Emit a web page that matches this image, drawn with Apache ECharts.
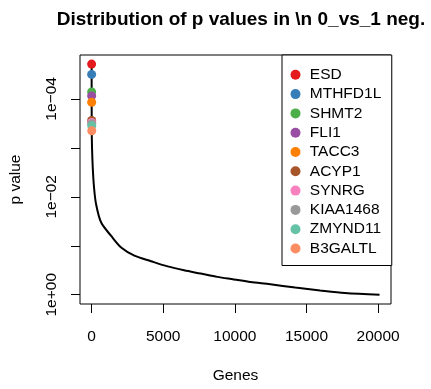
<!DOCTYPE html>
<html>
<head>
<meta charset="utf-8">
<script src="https://cdn.jsdelivr.net/npm/echarts@6/dist/echarts.min.js"></script>
<style>
html,body{margin:0;padding:0;background:#fff;}
#chart{width:431px;height:389px;}
</style>
</head>
<body>
<div id="chart"></div>
<script>
// Top genes (rank on x, -log10(p) on y)
const categories = ['ESD','MTHFD1L','SHMT2','FLI1','TACC3','ACYP1','SYNRG','KIAA1468','ZMYND11','B3GALTL'];
const geneRanks = [1,2,3,4,5,6,7,8,9,10];
const geneNegLog10P = [4.71,4.50,4.14,4.06,3.93,3.56,3.52,3.49,3.45,3.35];
const geneColors = ['#E41A1C','#377EB8','#4DAF4A','#984EA3','#FF7F00','#A65628','#F781BF','#999999','#66C2A5','#FC8D62'];
// Sorted p-value curve (rest of the genes)
const curveRanks = [30,80,167,306,660,1368,2063,2986,4146,5305,6458,7617,8777,9930,11090,12479,14215,15951,17687,20100];
const curveNegLog10P = [3.0,2.6,2.2,1.86,1.48,1.2,0.964,0.798,0.685,0.579,0.499,0.433,0.365,0.313,0.259,0.214,0.146,0.086,0.034,0];
// Axis ticks
const xTicks = [0,5000,10000,15000,20000];
const yTicks = [0,1,2,3,4];
const yLabelTicks = [0,2,4];

const FONT = "'Liberation Sans', Arial, Helvetica, sans-serif";
const FS = 15.5;

const lineData = geneRanks.map((r,i)=>[r, geneNegLog10P[i]])
  .concat(curveRanks.map((r,i)=>[r, curveNegLog10P[i]]));

const series = [{
  type:'line', data: lineData, showSymbol:false, symbol:'none',
  smooth:0.3,
  lineStyle:{color:'#000', width:2}, z:2, silent:true
}];
categories.forEach((name,i)=>{
  series.push({
    type:'scatter', name:name, data:[[geneRanks[i], geneNegLog10P[i]]],
    symbol:'circle', symbolSize:9, itemStyle:{color:geneColors[i], opacity:1}, z:3+i
  });
});

const chart = echarts.init(document.getElementById('chart'), null, {renderer:'canvas'});
chart.setOption({
  animation:false,
  backgroundColor:'#fff',
  textStyle:{fontFamily:FONT},
  title:{
    text:'Distribution of p values in \\n 0_vs_1 neg.',
    left:236, top:5, textAlign:'center',
    textStyle:{fontFamily:FONT, fontWeight:'bold', fontSize:19, color:'#000'}
  },
  grid:{left:78, top:55, width:313, height:254, show:true, borderColor:'#000', borderWidth:1, backgroundColor:'transparent'},
  legend:{
    orient:'vertical', left:282, top:55,
    data:categories, icon:'circle',
    itemWidth:18.6, itemHeight:10, itemGap:3.3,
    padding:[11.8, 10.5, 9, 8.5],
    borderColor:'#000', borderWidth:1, backgroundColor:'#fff',
    textStyle:{fontFamily:FONT, fontSize:FS, color:'#000', lineHeight:15},
    selectedMode:false
  },
  xAxis:{
    type:'value', min:-810, max:20900,
    splitLine:{show:false},
    axisLine:{show:false, onZero:false},
    axisTick:{show:true, customValues:xTicks, length:9, lineStyle:{color:'#000', width:1}},
    axisLabel:{customValues:xTicks, margin:25, fontSize:FS, color:'#000', fontFamily:FONT,
      formatter:function(v){ return String(v); }},
    name:'Genes', nameLocation:'middle', nameGap:64,
    nameTextStyle:{fontSize:FS, color:'#000', fontFamily:FONT}
  },
  yAxis:{
    type:'value', min:-0.189, max:4.896,
    splitLine:{show:false},
    axisLine:{show:false, onZero:false},
    axisTick:{show:true, customValues:yTicks, length:9, lineStyle:{color:'#000', width:1}},
    axisLabel:{customValues:yLabelTicks, rotate:90, margin:20, fontSize:FS, color:'#000', fontFamily:FONT,
      formatter:function(v){ return v===0 ? '1e+00' : '1e\u22120'+v; }},
    name:'p value', nameLocation:'middle', nameGap:56, nameRotate:90,
    nameTextStyle:{fontSize:FS, color:'#000', fontFamily:FONT}
  },
  series:series
});
</script>
</body>
</html>
